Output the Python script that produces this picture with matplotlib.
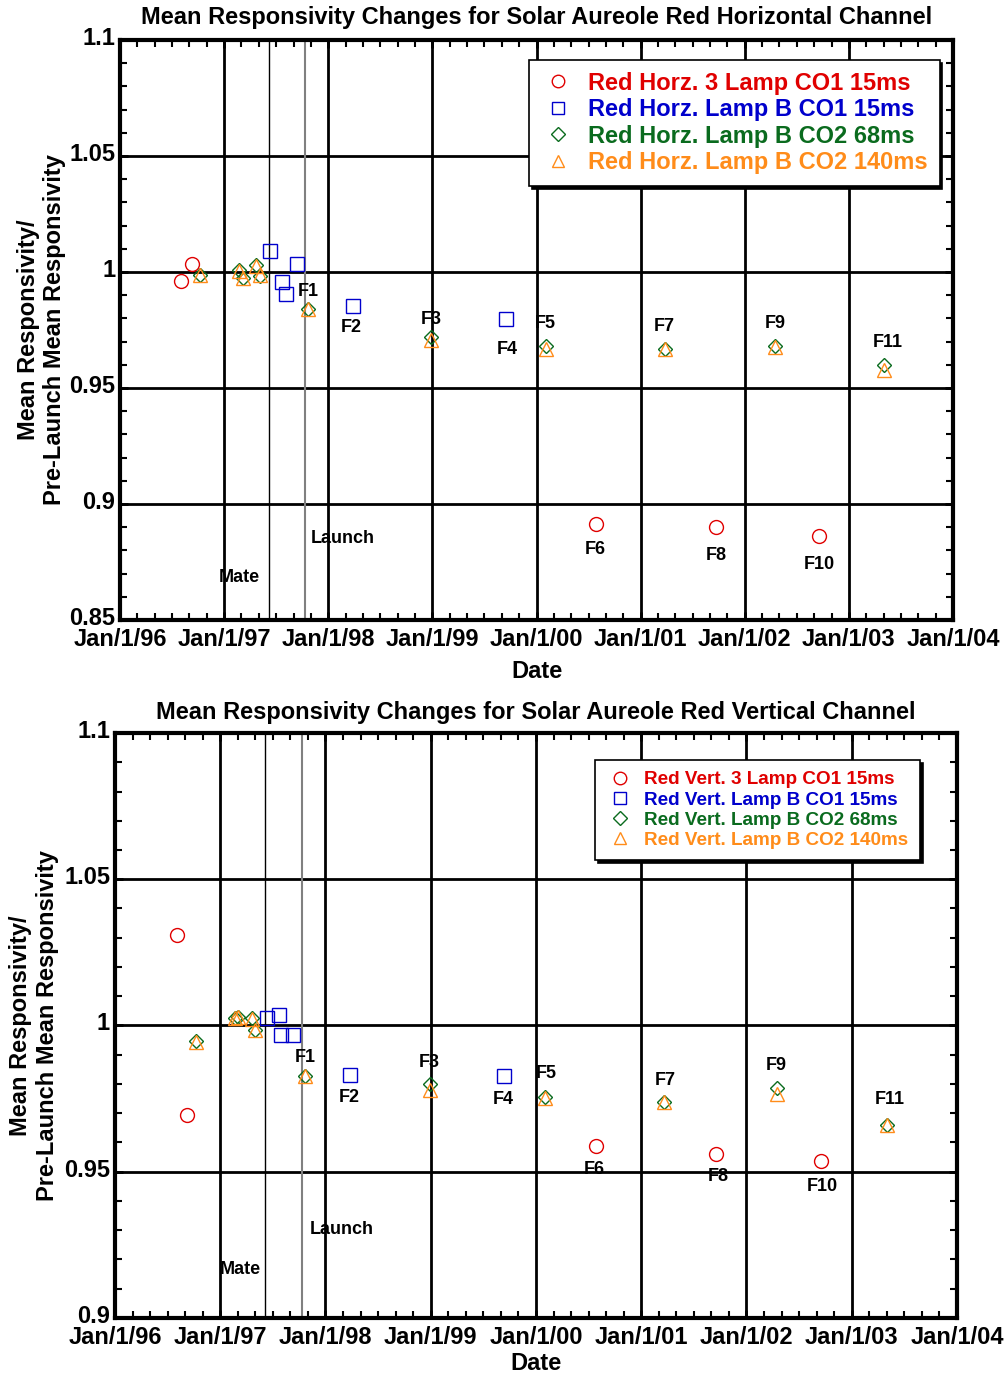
"""Mean responsivity changes, Solar Aureole red channels (horizontal / vertical)."""

import matplotlib
matplotlib.use("Agg")
import matplotlib.pyplot as plt
from matplotlib.ticker import FuncFormatter, MultipleLocator
from matplotlib.transforms import ScaledTranslation

plt.rcParams["font.family"] = ["Liberation Sans", "DejaVu Sans"]
plt.rcParams["font.weight"] = "bold"

# ---- horizontal channel (top panel) ----
h_red_x = [1996.59, 1996.69, 2000.57, 2001.72, 2002.71]
h_red_y = [0.9961, 1.0033, 0.8914, 0.8901, 0.8863]
h_blue_x = [1997.44, 1997.56, 1997.59, 1997.70, 1998.24, 1999.71]
h_blue_y = [1.0090, 0.9957, 0.9904, 1.0033, 0.9853, 0.9796]
h_grn_x = [1996.77, 1997.14, 1997.18, 1997.31, 1997.34, 1997.81,
           1998.99, 2000.09, 2001.23, 2002.29, 2003.34]
h_grn_y = [0.9988, 1.0008, 0.9976, 1.0030, 0.9983, 0.9842,
           0.9718, 0.9680, 0.9670, 0.9683, 0.9600]
h_org_x = h_grn_x
h_org_y = [0.9986, 1.0005, 0.9974, 1.0028, 0.9986, 0.9840,
           0.9708, 0.9668, 0.9670, 0.9675, 0.9578]

# ---- vertical channel (bottom panel) ----
v_red_x = [1996.59, 1996.68, 2000.57, 2001.71, 2002.71]
v_red_y = [1.0308, 0.9694, 0.9589, 0.9561, 0.9535]
v_blue_x = [1997.44, 1997.56, 1997.58, 1997.69, 1998.23, 1999.70]
v_blue_y = [1.0027, 1.0035, 0.9967, 0.9967, 0.9830, 0.9828]
v_grn_x = [1996.77, 1997.14, 1997.17, 1997.30, 1997.33, 1997.81,
           1998.99, 2000.09, 2001.22, 2002.29, 2003.34]
v_grn_y = [0.9947, 1.0026, 1.0030, 1.0024, 0.9986, 0.9828,
           0.9800, 0.9755, 0.9740, 0.9785, 0.9658]
v_org_x = v_grn_x
v_org_y = [0.9945, 1.0024, 1.0028, 1.0022, 0.9984, 0.9826,
           0.9780, 0.9753, 0.9740, 0.9765, 0.9660]

mate_year = 1997.43
launch_year = 1997.78

h_labels = [("F1", 1997.81, 0.9918), ("F2", 1998.22, 0.9759), ("F3", 1998.99, 0.9797),
            ("F4", 1999.72, 0.9668), ("F5", 2000.08, 0.9776), ("F6", 2000.56, 0.8802),
            ("F7", 2001.23, 0.9767), ("F8", 2001.73, 0.8776), ("F9", 2002.29, 0.9780),
            ("F10", 2002.72, 0.8741), ("F11", 2003.37, 0.9698),
            ("Mate", 1997.15, 0.8681), ("Launch", 1998.14, 0.8853)]
v_labels = [("F1", 1997.81, 0.9891), ("F2", 1998.23, 0.9755), ("F3", 1998.99, 0.9874),
            ("F4", 1999.69, 0.9748), ("F5", 2000.10, 0.9836), ("F6", 2000.55, 0.9509),
            ("F7", 2001.23, 0.9812), ("F8", 2001.73, 0.9485), ("F9", 2002.28, 0.9864),
            ("F10", 2002.72, 0.9451), ("F11", 2003.36, 0.9748),
            ("Mate", 1997.19, 0.9165), ("Launch", 1998.15, 0.9304)]

RED = "#e00000"
BLUE = "#0000cc"
GREEN = "#0a6b1e"
ORANGE = "#ff8c1a"
FS = 17


def year_fmt(val, pos):
    return f"Jan/1/{int(round(val)) % 100:02d}"


def draw_panel(ax, series, names, labels, title, ylim, legend_anchor, legend_size,
               legend_pad, title_pad, xlabel_pad, ylabel_pad):
    ax.set_xlim(1996, 2004)
    ax.set_ylim(*ylim)
    ax.xaxis.set_major_locator(MultipleLocator(1))
    ax.xaxis.set_minor_locator(MultipleLocator(1 / 6))
    ax.xaxis.set_major_formatter(FuncFormatter(year_fmt))
    ax.yaxis.set_major_locator(MultipleLocator(0.05))
    ax.yaxis.set_minor_locator(MultipleLocator(0.01))
    ax.yaxis.set_major_formatter(FuncFormatter(lambda v, p: f"{v:g}"))
    ax.grid(which="major", color="black", lw=2)
    ax.tick_params(which="both", direction="in", top=True, right=True, labelsize=FS)
    ax.tick_params(which="major", length=6, width=2)
    ax.tick_params(axis="x", which="major", pad=6)
    ax.tick_params(which="minor", length=5, width=1.5)
    for sp in ax.spines.values():
        sp.set_linewidth(3)
    # y tick labels sit a little above their lines in the original
    shift = ScaledTranslation(0, 3 / 72, ax.figure.dpi_scale_trans)
    for lab in ax.get_yticklabels():
        lab.set_transform(lab.get_transform() + shift)

    ax.axvline(mate_year, color="black", lw=1)
    ax.axvline(launch_year, color="gray", lw=1.5)

    markers = ["o", "s", "D", "^"]
    sizes = [10, 10, 7.5, 10]
    colors = [RED, BLUE, GREEN, ORANGE]
    for (x, y), m, ms, c, name in zip(series, markers, sizes, colors, names):
        ax.plot(x, y, ls="none", marker=m, ms=ms, mfc="none", mec=c, mew=1,
                label=name)

    for txt, x, y in labels:
        ax.text(x, y, txt, ha="center", va="center", fontsize=13, fontweight="bold")

    ax.set_title(title, fontsize=FS, fontweight="bold", pad=title_pad)
    ax.set_xlabel("Date", fontsize=FS, fontweight="bold", labelpad=xlabel_pad)
    ax.set_ylabel("Mean Responsivity/\nPre-Launch Mean Responsivity",
                  fontsize=FS, fontweight="bold", labelpad=ylabel_pad)

    leg = ax.legend(loc="upper right", bbox_to_anchor=legend_anchor,
                    fontsize=legend_size, frameon=True, fancybox=False,
                    framealpha=1, edgecolor="black", shadow={"color": "black", "alpha": 1},
                    labelspacing=0.15, handletextpad=0.6, borderpad=legend_pad,
                    borderaxespad=0, handlelength=1.4, markerscale=0.9)
    leg.get_frame().set_linewidth(1.2)
    for t, c in zip(leg.get_texts(), colors):
        t.set_color(c)
        t.set_fontweight("bold")


fig = plt.figure(figsize=(10.05, 13.75), dpi=100)
ax1 = fig.add_axes([0.1194, 0.5491, 0.8289, 0.4218])
ax2 = fig.add_axes([0.1144, 0.0415, 0.8378, 0.4254])

draw_panel(ax1,
           [(h_red_x, h_red_y), (h_blue_x, h_blue_y), (h_grn_x, h_grn_y), (h_org_x, h_org_y)],
           ["Red Horz. 3 Lamp CO1 15ms", "Red Horz. Lamp B CO1 15ms",
            "Red Horz. Lamp B CO2 68ms", "Red Horz. Lamp B CO2 140ms"],
           h_labels, "Mean Responsivity Changes for Solar Aureole Red Horizontal Channel",
           (0.85, 1.1), (0.984, 0.966), 17, 0.5, 11.5, 6, 2)

draw_panel(ax2,
           [(v_red_x, v_red_y), (v_blue_x, v_blue_y), (v_grn_x, v_grn_y), (v_org_x, v_org_y)],
           ["Red Vert. 3 Lamp CO1 15ms", "Red Vert. Lamp B CO1 15ms",
            "Red Vert. Lamp B CO2 68ms", "Red Vert. Lamp B CO2 140ms"],
           v_labels, "Mean Responsivity Changes for Solar Aureole Red Vertical Channel",
           (0.9, 1.1), (0.956, 0.954), 13.6, 0.6, 10, 2, 4)

fig.savefig("out.png", dpi=100)
